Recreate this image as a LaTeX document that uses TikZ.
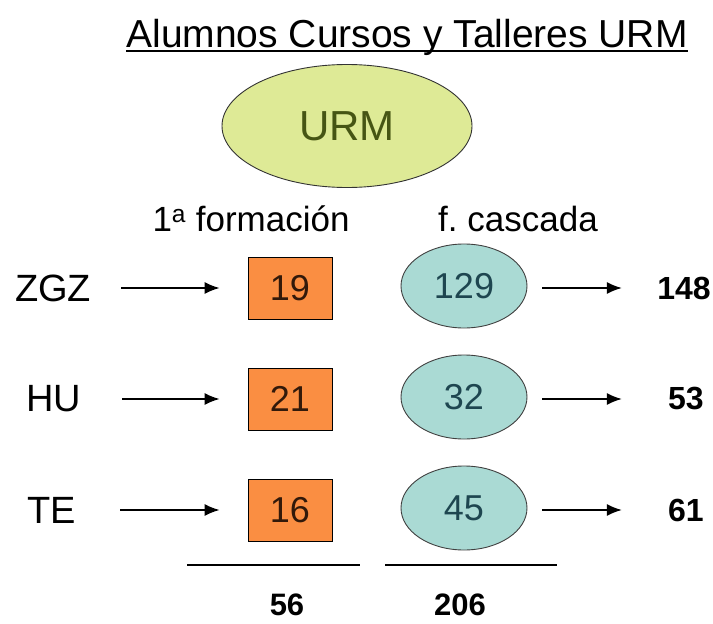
\documentclass[tikz,border=0pt]{standalone}
\usepackage{fontspec}
\setmainfont{Liberation Sans}
\usepackage{tikz}
\usetikzlibrary{shapes.geometric, arrows.meta, positioning}
\definecolor{naranja}{RGB}{250,142,66}
\definecolor{turquesa}{RGB}{170,218,212}
\definecolor{verdeurm}{RGB}{222,234,150}
\definecolor{textourm}{RGB}{70,85,20}
\definecolor{textocasc}{RGB}{30,70,80}
\definecolor{textocaja}{RGB}{50,25,10}
\tikzset{
    sede/.style={rectangle, minimum width=90pt, inner sep=0pt, font=\fontsize{38}{38}\selectfont},
    caja/.style={rectangle, draw=black, line width=0.9pt, fill=naranja, minimum width=84pt, minimum height=62pt, text=textocaja, font=\fontsize{36}{36}\selectfont},
    cascada/.style={ellipse, draw=black!75, line width=0.9pt, fill=turquesa, minimum width=126pt, minimum height=84pt, text=textocasc, font=\fontsize{36}{36}\selectfont},
    total/.style={rectangle, minimum width=60pt, inner sep=0pt, font=\fontsize{32}{32}\selectfont\bfseries},
    suma/.style={rectangle, inner sep=0pt, font=\fontsize{31}{31}\selectfont\bfseries},
    cabecera/.style={rectangle, inner sep=0pt, font=\fontsize{35}{35}\selectfont},
    arrow/.style={line width=1.4pt, -{Latex[length=15pt,width=12pt]}}
}
\begin{document}
\begin{tikzpicture}[x=1pt, y=-1pt]
    \useasboundingbox [fill=white] (0,0) rectangle (713,624);

    \node (titulo) [anchor=base, inner sep=0pt, font=\fontsize{39}{39}\selectfont] at (407,47) {Alumnos Cursos y Talleres URM};
    \draw [line width=1.6pt] ([yshift=-4pt]titulo.base west) -- ([yshift=-4pt]titulo.base east);

    \node (urm) [ellipse, draw=black!80, line width=0.9pt, fill=verdeurm, minimum width=250pt, minimum height=123pt, text=textourm, font=\fontsize{42}{42}\selectfont] at (347,126) {URM};

    \node (primera) [cabecera] at (251,219) {1\textsuperscript{a} formación};
    \node (fcascada) [cabecera] at (518,219) {f.\ cascada};

    % filas por sede
    \node (zgz) [sede] at (53,288) {ZGZ};
    \node (c19) [caja] at (290,288) {19};
    \node (e129) [cascada] at (464,286) {129};
    \node (t148) [total] at (684,288) {148};

    \node (hu) [sede] at (54,399) {HU};
    \node (c21) [caja] at (290,399) {21};
    \node (e32) [cascada] at (464,397) {32};
    \node (t53) [total] at (686,399) {53};

    \node (te) [sede] at (52,510) {TE};
    \node (c16) [caja] at (290,510) {16};
    \node (e45) [cascada] at (464,508) {45};
    \node (t61) [total] at (686,510) {61};

    \draw [arrow, shorten <=23pt, shorten >=28pt] (zgz) -- (c19);
    \draw [arrow, shorten <=23pt, shorten >=28pt] (hu) -- (c21);
    \draw [arrow, shorten <=23pt, shorten >=28pt] (te) -- (c16);
    \draw [arrow, shorten <=15pt, shorten >=32pt] (e129.east |- t148) -- (t148);
    \draw [arrow, shorten <=15pt, shorten >=34pt] (e32.east |- t53) -- (t53);
    \draw [arrow, shorten <=15pt, shorten >=34pt] (e45.east |- t61) -- (t61);

    % totales
    \coordinate (l1a) at (187,565);
    \coordinate (l1b) at (360,565);
    \coordinate (l2a) at (385,565);
    \coordinate (l2b) at (557,565);
    \draw [line width=1.2pt] (l1a) -- (l1b);
    \draw [line width=1.2pt] (l2a) -- (l2b);
    \node (s56) [suma] at (287,605) {56};
    \node (s206) [suma] at (460,605) {206};
\end{tikzpicture}
\end{document}
